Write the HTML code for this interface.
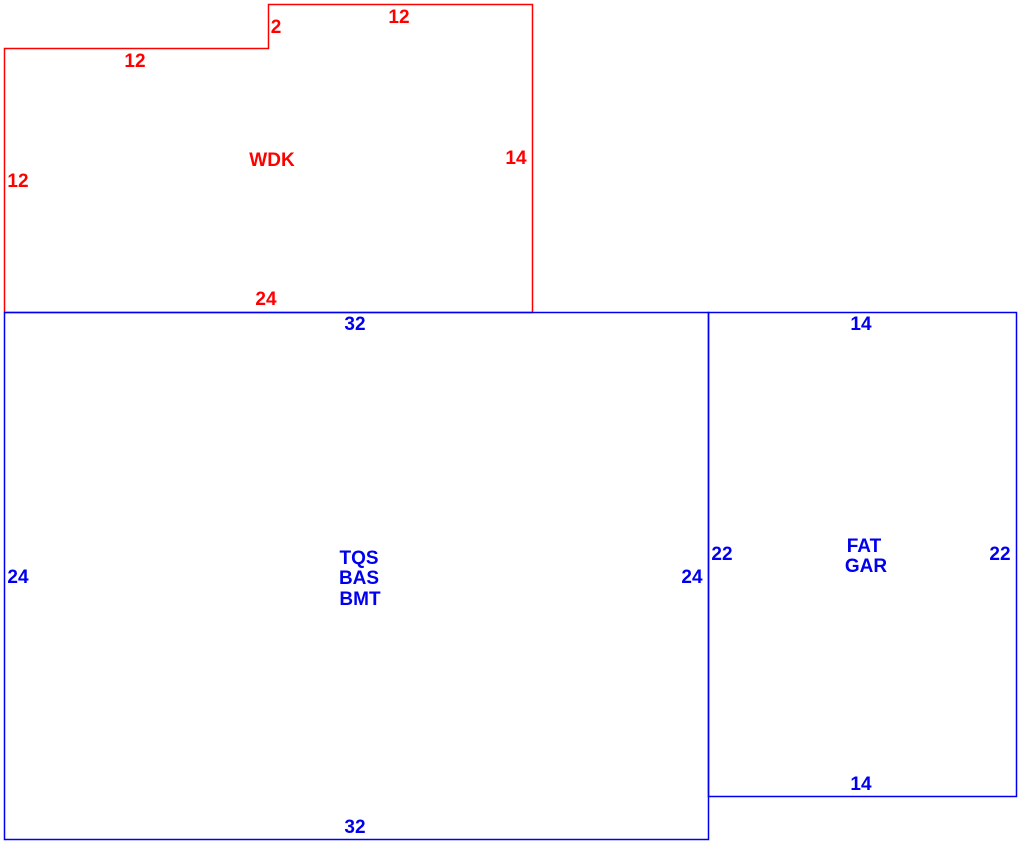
<!DOCTYPE html>
<html><head><style>body{margin:0;background:#fff}svg{display:block}text{font-family:"Liberation Sans",sans-serif;font-weight:bold;font-size:19px}</style></head>
<body>
<svg width="1025" height="860" xmlns="http://www.w3.org/2000/svg">
<polyline points="4.5,312.5 4.5,48.5 268.5,48.5 268.5,4.5 532.5,4.5 532.5,312.5 4.5,312.5" fill="none" stroke="#f00" stroke-width="1.5"/>
<rect x="4.5" y="312.5" width="704" height="527" fill="none" stroke="#00e" stroke-width="1.5"/>
<rect x="708.5" y="312.5" width="308" height="484" fill="none" stroke="#00e" stroke-width="1.5"/>
<g fill="#f00" text-anchor="middle">
<text x="276" y="33">2</text>
<text x="399" y="23">12</text>
<text x="135" y="67">12</text>
<text x="18" y="187">12</text>
<text x="272" y="166">WDK</text>
<text x="516" y="164">14</text>
<text x="266" y="305">24</text>
</g>
<g fill="#00e" text-anchor="middle">
<text x="355" y="330">32</text>
<text x="18" y="583">24</text>
<text x="692" y="583">24</text>
<text x="359" y="564">TQS</text>
<text x="359" y="584">BAS</text>
<text x="360" y="605">BMT</text>
<text x="355" y="833">32</text>
<text x="861" y="330">14</text>
<text x="722" y="560">22</text>
<text x="1000" y="560">22</text>
<text x="864" y="552">FAT</text>
<text x="866" y="572">GAR</text>
<text x="861" y="790">14</text>
</g>
</svg>
</body></html>
